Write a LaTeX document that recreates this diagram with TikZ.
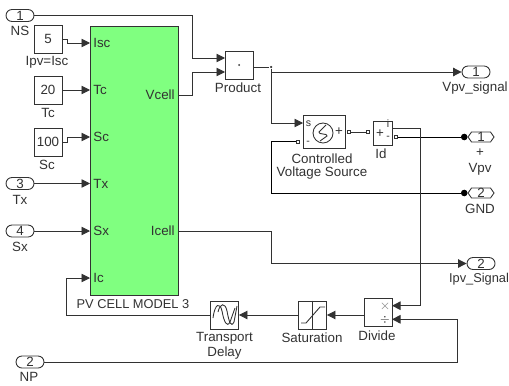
\documentclass[tikz,border=0pt]{standalone}
\usepackage{fontspec}
\setmainfont{Liberation Sans}
\usepackage{xcolor}
\usetikzlibrary{arrows.meta, positioning, shapes.symbols, shapes.misc}
\definecolor{cellgreen}{RGB}{128, 255, 128}
\definecolor{inkcolor}{RGB}{50, 50, 50}
\tikzset{
  blk/.style={draw=inkcolor, fill=white, line width=0.5pt, minimum width=0.56cm, minimum height=0.56cm, inner sep=0pt, font=\fontsize{7.6}{9}\selectfont, text=inkcolor},
  inport/.style={draw=inkcolor, fill=white, line width=0.5pt, rounded corners=0.12cm, minimum width=0.56cm, minimum height=0.24cm, inner sep=0pt, font=\fontsize{7.6}{7.6}\selectfont, text=inkcolor},
  pmport/.style={draw=inkcolor, fill=white, line width=0.5pt, shape=signal, signal to=east and west, signal pointer angle=110, minimum width=0.52cm, minimum height=0.2cm, inner sep=0pt, font=\fontsize{7.6}{7.6}\selectfont, text=inkcolor},
  lbl/.style={font=\fontsize{7.6}{9.4}\selectfont, text=inkcolor, inner sep=0pt, align=center},
  sig/.style={draw=inkcolor, line width=0.5pt, -{Triangle[length=0.17cm,width=0.17cm]}},
  wire/.style={draw=inkcolor, line width=0.5pt},
  pmwire/.style={draw=black, line width=0.5pt, -{Circle[length=0.13cm]}},
  conn/.style={draw=inkcolor, fill=white, line width=0.4pt, minimum size=0.05cm, inner sep=0pt},
  jdot/.style={circle, fill=inkcolor, minimum size=0.05cm, inner sep=0pt}
}
\begin{document}
\begin{tikzpicture}[x=0.02cm, y=-0.02cm]
  \useasboundingbox (0,0) rectangle (509,385);

  % PV cell block
  \node[draw=inkcolor, fill=cellgreen, line width=0.5pt, minimum width=1.76cm, minimum height=5.38cm, inner sep=0pt] (pv) at (134,160.5) {};
  \node[lbl, font=\fontsize{7.3}{9}\selectfont] at (133,304) {PV CELL MODEL 3};
  \coordinate (isc) at (90,43);
  \coordinate (tc) at (90,90);
  \coordinate (sc) at (90,137);
  \coordinate (tx) at (90,183.5);
  \coordinate (sx) at (90,231);
  \coordinate (ic) at (90,278);
  \coordinate (vcell) at (178,95);
  \coordinate (icell) at (178,231);
  \node[lbl, anchor=west] at (93,43) {Isc};
  \node[lbl, anchor=west] at (93,90) {Tc};
  \node[lbl, anchor=west] at (93,137) {Sc};
  \node[lbl, anchor=west] at (93,184) {Tx};
  \node[lbl, anchor=west] at (93,231) {Sx};
  \node[lbl, anchor=west] at (93,278) {Ic};
  \node[lbl, anchor=east] at (175,95) {Vcell};
  \node[lbl, anchor=east] at (175,231) {Icell};

  % Inputs
  \node[inport] (ns) at (20,15.5) {1};
  \node[lbl] at (20,31) {NS};
  \node[blk] (isource) at (48,39) {5};
  \node[lbl] at (47,62) {Ipv=Isc};
  \node[blk] (tsource) at (48,90) {20};
  \node[lbl] at (48,113) {Tc};
  \node[blk] (ssource) at (48,142) {100};
  \node[lbl] at (47,165) {Sc};
  \node[inport] (txin) at (20,183.5) {3};
  \node[lbl] at (20,200) {Tx};
  \node[inport] (sxin) at (20,231) {4};
  \node[lbl] at (20,247) {Sx};
  \node[inport] (npin) at (30,362) {2};
  \node[lbl] at (29,377) {NP};

  % Middle blocks
  \node[blk] (product) at (239,65) {};
  \fill[inkcolor] (product.center) circle (1);
  \node[lbl] at (238,88) {Product};
  \node[blk, minimum width=0.84cm, minimum height=0.66cm] (cvs) at (324.5,131.5) {};
  \draw[inkcolor, line width=0.5pt] (323,133) circle (10);
  \draw[inkcolor, line width=0.5pt] (326,125) -- (319,132) .. controls (318,135) and (328,133) .. (327,136) -- (320,141);
  \node[lbl, font=\fontsize{6}{6}\selectfont] at (308.5,124) {s};
  \node[lbl, font=\fontsize{6}{6}\selectfont] at (308,143) {-};
  \node[lbl, font=\fontsize{7.6}{7.6}\selectfont] at (339,132) {+};
  \node[lbl] at (322,159) {Controlled};
  \node[lbl] at (322,173) {Voltage Source};
  \node[blk, minimum width=0.38cm, minimum height=0.48cm] (idblk) at (382.5,133) {};
  \node[lbl] at (380,134) {+};
  \node[lbl, font=\fontsize{6}{6}\selectfont] at (388,124) {i};
  \node[lbl, font=\fontsize{6}{6}\selectfont] at (388,138) {-};
  \node[lbl] at (381,154) {Id};
  \node[conn] (cvsneg) at (298,141.7) {};
  \node[conn] (cvspos) at (349,132) {};
  \node[conn] (idin) at (368,132) {};
  \node[conn] (idout) at (396,137) {};

  % Lower row
  \node[blk] (divide) at (378,312.5) {};
  \node[lbl, font=\fontsize{7}{7}\selectfont, text=gray] at (385,306) {$\times$};
  \node[lbl, font=\fontsize{6}{6}\selectfont] at (385,320) {$\div$};
  \node[lbl] at (377,336) {Divide};
  \node[blk] (saturation) at (312.5,315) {};
  \draw[inkcolor, line width=0.5pt] (saturation.north) -- (saturation.south);
  \draw[inkcolor, line width=0.5pt] (301,323) -- (306,323) -- (320,307) -- (325,307);
  \node[lbl] at (312,338) {Saturation};
  \node[blk] (delay) at (224.5,315) {};
  \draw[inkcolor, line width=0.5pt] (213,318) .. controls (215,303) and (220,302) .. (222,311) .. controls (224,322) and (227,328) .. (230,322) -- (235,308);
  \draw[inkcolor, line width=0.5pt] (218,312) .. controls (220,303) and (225,302) .. (227,311) .. controls (229,322) and (231,328) .. (234,322) -- (237,306);
  \node[lbl] at (224.5,338) {Transport};
  \node[lbl] at (224.5,353) {Delay};

  % Outputs
  \node[inport] (vpvsignal) at (476,72) {1};
  \node[lbl] at (475,88) {Vpv\_signal};
  \node[pmport] (vpv) at (481,137) {1};
  \node[lbl] at (480,153) {+};
  \node[lbl] at (480,169) {Vpv};
  \node[pmport] (gnd) at (481,193) {2};
  \node[lbl] at (480,209) {GND};
  \node[inport] (ipvsignal) at (481,263.5) {2};
  \node[lbl, font=\fontsize{7.3}{9}\selectfont] at (479,279) {Ipv\_Signal};

  % Junctions
  \coordinate (prodin1) at (225,58);
  \coordinate (prodin2) at (225,72);
  \node[jdot] (jprod) at (271,67) {};
  \coordinate (cvsin) at (303,123);
  \coordinate (divtop) at (392,305.7);
  \coordinate (divbot) at (392,319.3);

  % Signals
  \draw[sig] (ns.east) -| (192,58) -- (prodin1);
  \draw[sig] (vcell) -| (192,72) -- (prodin2);
  \draw[sig] (isource.east) -- ++(5,0) |- (isc);
  \draw[sig] (tsource.east) -- (tc);
  \draw[sig] (ssource.east) -- ++(5,0) |- (sc);
  \draw[sig] (txin.east) -- (tx);
  \draw[sig] (sxin.east) -- (sx);
  \draw[wire] (product.east |- jprod) -- (jprod);
  \draw[sig] (jprod) |- (cvsin);
  \draw[sig] (271,72) -- (vpvsignal.west);
  \draw[wire] (cvspos) -- (idin);
  \draw[pmwire] (idout) -- (vpv.west);
  \draw[pmwire] (cvsneg) -| (271,193) -- (gnd.west);
  \draw[sig] (392,128) -| (420,305.7) -- (divtop);
  \draw[sig] (npin.east) -| (457,319.3) -- (divbot);
  \draw[sig] (icell) -| (271,263.5) -- (ipvsignal.west);
  \draw[sig] (divide.west |- saturation) -- (saturation.east);
  \draw[sig] (saturation.west) -- (delay.east);
  \draw[sig] (delay.west) -| (66.5,278) -- (ic);
\end{tikzpicture}
\end{document}
